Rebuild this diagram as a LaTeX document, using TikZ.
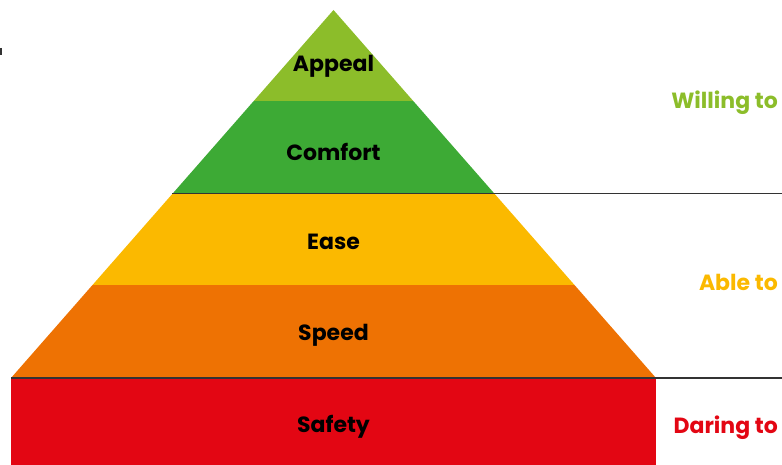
\documentclass[tikz,border=0pt]{standalone}
\usepackage{fontspec}
\setmainfont{Poppins}
\definecolor{cAppeal}{HTML}{8CBD2A}
\definecolor{cComfort}{HTML}{3DAA35}
\definecolor{cEase}{HTML}{FBB900}
\definecolor{cSpeed}{HTML}{EE7203}
\definecolor{cSafety}{HTML}{E30613}
\definecolor{cLine}{HTML}{333333}
\begin{document}
\begin{tikzpicture}[x=1pt,y=-1pt,
  lvl/.style={anchor=base,inner sep=0pt,font=\fontsize{22}{26}\selectfont\bfseries,text=black},
  side/.style={anchor=base east,inner sep=0pt,font=\fontsize{22}{26}\selectfont\bfseries},
  sep/.style={draw=cLine,line width=1.3pt}]
\useasboundingbox (0,0) rectangle (782,465);
\coordinate (apex) at (333.5,10);
\coordinate (bl) at (11,378);
\coordinate (br) at (656,378);
\begin{scope}
  \clip (apex) -- (br) -- (bl) -- cycle;
  \fill[cAppeal] (0,0) rectangle (782,101);
  \fill[cComfort] (0,101) rectangle (782,193.5);
  \fill[cEase] (0,193.5) rectangle (782,285);
  \fill[cSpeed] (0,285) rectangle (782,378);
\end{scope}
\fill[cSafety] (11,378) rectangle (656,465);
\draw[sep] (172,193.5) -- (782,193.5);
\draw[sep] (11,378) -- (782,378);
\draw[cLine,line width=1.5pt] (0.75,48) -- (0.75,55);
\node[lvl] (appeal) at (333.5,71.6) {Appeal};
\node[lvl] (comfort) at (333.5,160.7) {Comfort};
\node[lvl] (ease) at (333.5,249.3) {Ease};
\node[lvl] (speed) at (333.5,340.7) {Speed};
\node[lvl] (safety) at (333.5,432.3) {Safety};
\node[side,text=cAppeal] (willing) at (778,108.3) {Willing to};
\node[side,text=cEase] (able) at (778,290.7) {Able to};
\node[side,text=cSafety] (daring) at (778,433.3) {Daring to};
\end{tikzpicture}
\end{document}
